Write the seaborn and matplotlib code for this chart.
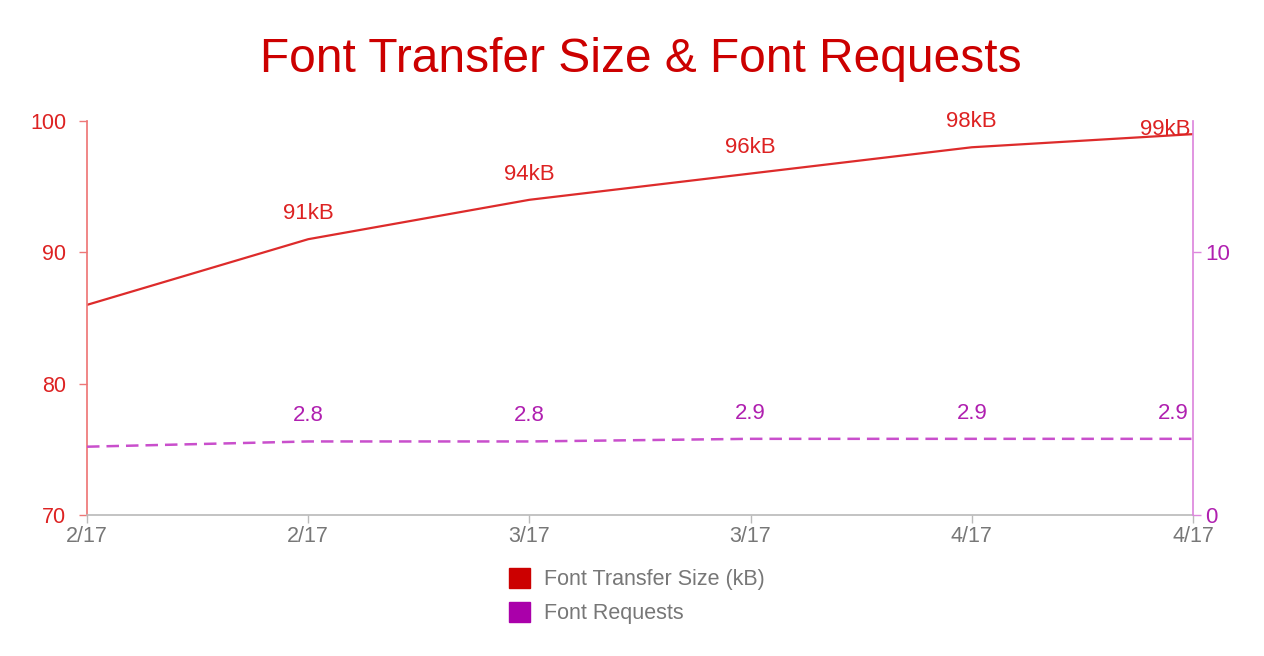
import matplotlib
matplotlib.use('Agg')
from matplotlib import pyplot as plt
from matplotlib.patches import Patch
import numpy as np
import pandas as pd
import seaborn as sns

# data
dates = ["2/17", "2/17", "3/17", "3/17", "4/17", "4/17"]
transfer_kb = [86, 91, 94, 96, 98, 99]
requests = [2.6, 2.8, 2.8, 2.9, 2.9, 2.9]

RED = "#cc0000"
RED_TXT = "#dd2222"
RED_LINE = "#dd2b2b"
PURPLE = "#aa00aa"
PURPLE_TXT = "#b020b0"
PURPLE_LINE = "#c94fcc"
GRAY = "#777777"

sns.set_theme(style="white")
plt.rcParams['font.family'] = ['Liberation Sans', 'DejaVu Sans']

df = pd.DataFrame({"idx": np.arange(len(dates)), "date": dates,
                   "kb": transfer_kb, "req": requests})

fig = plt.figure(figsize=(12.64, 6.56), dpi=100)
ax = fig.add_axes([87/1264, 1 - 515/656, (1193-87)/1264, (515-121)/656])
ax2 = ax.twinx()

sns.lineplot(data=df, x="idx", y="kb", ax=ax, color=RED_LINE, lw=1.6)
sns.lineplot(data=df, x="idx", y="req", ax=ax2, color=PURPLE_LINE, lw=1.8,
             linestyle=(0, (5, 2.8)))

n = len(dates)
ax.set_xlim(0, n - 1)
ax.set_ylim(70, 100)
ax.set_yticks([70, 80, 90, 100])
ax2.set_ylim(0, 15)
ax2.set_yticks([0, 10])
ax.set_xticks(df["idx"])
ax.set_xticklabels(dates)
ax.set_xlabel("")
ax.set_ylabel("")
ax2.set_ylabel("")

for a in (ax, ax2):
    a.grid(False)
    for s in a.spines.values():
        s.set_visible(False)
ax.spines['left'].set_visible(True)
ax.spines['left'].set_color("#ee7777")
ax.spines['bottom'].set_visible(True)
ax.spines['bottom'].set_color("#bbbbbb")
ax2.spines['right'].set_visible(True)
ax2.spines['right'].set_color("#dd88dd")

ax.tick_params(axis='y', colors=RED_TXT, labelsize=15.5, length=6, width=1, left=True, pad=9)
ax.tick_params(axis='y', color="#ee7777")
ax.tick_params(axis='x', colors=GRAY, labelsize=15.5, length=6, width=1, bottom=True, pad=2)
ax.tick_params(axis='x', color="#bbbbbb")
ax2.tick_params(axis='y', colors=PURPLE_TXT, labelsize=16, length=6, width=1, right=True, pad=3)
ax2.tick_params(axis='y', color="#dd88dd")

# point labels (first point is not labelled)
for i in range(1, n):
    if i < n - 1:
        ax.annotate(f"{transfer_kb[i]}kB", (i, transfer_kb[i]), xytext=(0, 11),
                    textcoords="offset points", ha="center", va="bottom",
                    color=RED_TXT, fontsize=16)
        ax2.annotate(f"{requests[i]:.1f}", (i, requests[i]), xytext=(0, 11),
                     textcoords="offset points", ha="center", va="bottom",
                     color=PURPLE_TXT, fontsize=16)
    else:
        ax.annotate(f"{transfer_kb[i]}kB", (i, transfer_kb[i]), xytext=(-2, 3),
                    textcoords="offset points", ha="right", va="center",
                    color=RED_TXT, fontsize=16)
        ax2.annotate(f"{requests[i]:.1f}", (i, requests[i]), xytext=(-3, 11),
                     textcoords="offset points", ha="right", va="bottom",
                     color=PURPLE_TXT, fontsize=16)

fig.text(641/1264, 1 - 59/656, "Font Transfer Size & Font Requests", ha="center",
         va="center", color=RED, fontsize=34.5)

handles = [Patch(facecolor=RED, edgecolor=RED), Patch(facecolor=PURPLE, edgecolor=PURPLE)]
fig.legend(handles, ["Font Transfer Size (kB)", "Font Requests"],
           loc="center", bbox_to_anchor=(637/1264, 1 - 596/656), frameon=False,
           fontsize=15.5, labelcolor=GRAY, handlelength=1.0, handleheight=1.05,
           handletextpad=0.65, labelspacing=0.55, alignment="left")

fig.savefig("out.png", dpi=100)
